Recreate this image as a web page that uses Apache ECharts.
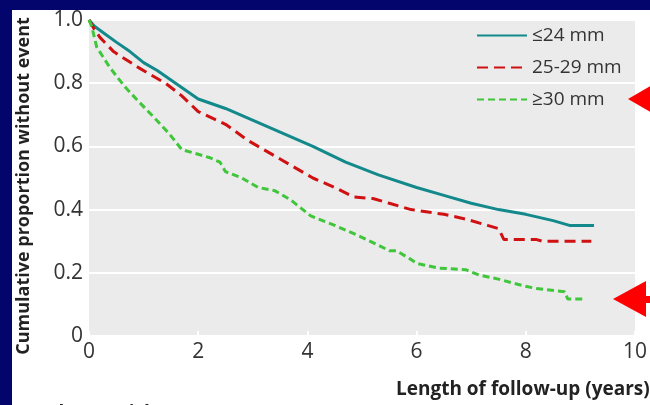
<!DOCTYPE html>
<html>
<head>
<meta charset="utf-8">
<script src="https://cdn.jsdelivr.net/npm/echarts@6/dist/echarts.min.js"></script>
<style>
  html, body { margin: 0; padding: 0; background: #03046c; }
  #chart { width: 650px; height: 405px; }
</style>
</head>
<body>
<div id="chart"></div>
<script>
// follow-up years and proportion without event
const smallYears = [0, 0.1, 0.3, 0.5, 0.75, 1.0, 1.25, 1.5, 2.0, 2.5, 2.9, 3.5, 4.1, 4.7, 5.3, 6.0, 6.5, 7.0, 7.5, 8.0, 8.5, 8.8, 9.25];
const smallVals  = [1.0, 0.98, 0.955, 0.93, 0.90, 0.865, 0.84, 0.81, 0.75, 0.72, 0.69, 0.645, 0.60, 0.55, 0.51, 0.47, 0.445, 0.42, 0.40, 0.385, 0.365, 0.35, 0.35];

const midYears = [0, 0.1, 0.2, 0.45, 0.9, 1.4, 1.7, 2.0, 2.5, 2.9, 3.5, 4.1, 4.5, 4.85, 5.2, 5.5, 5.9, 6.5, 6.9, 7.3, 7.5, 7.6, 8.2, 8.3, 9.2];
const midVals  = [1.0, 0.97, 0.945, 0.90, 0.85, 0.80, 0.76, 0.71, 0.67, 0.62, 0.56, 0.50, 0.47, 0.44, 0.435, 0.42, 0.40, 0.385, 0.37, 0.35, 0.34, 0.305, 0.305, 0.30, 0.30];

const bigYears = [0, 0.05, 0.14, 0.38, 0.65, 0.92, 1.2, 1.47, 1.7, 2.0, 2.2, 2.4, 2.5, 2.8, 3.1, 3.4, 3.7, 4.06, 4.5, 4.9, 5.27, 5.5, 5.63, 5.87, 6.0, 6.4, 6.9, 7.14, 7.5, 7.93, 8.2, 8.71, 8.77, 9.05];
const bigVals  = [1.0, 0.98, 0.915, 0.85, 0.79, 0.74, 0.69, 0.64, 0.59, 0.575, 0.565, 0.55, 0.52, 0.50, 0.47, 0.46, 0.43, 0.38, 0.35, 0.32, 0.29, 0.27, 0.27, 0.245, 0.23, 0.215, 0.21, 0.193, 0.18, 0.16, 0.15, 0.14, 0.117, 0.117];

const seriesNames = ["≤24 mm", "25-29 mm", "≥30 mm"];
const xTicks = [0, 2, 4, 6, 8, 10];

function pairs(xs, ys) {
  return xs.map((x, i) => [x, ys[i]]);
}

const font = "Open Sans";
const chart = echarts.init(document.getElementById("chart"));

chart.setOption({
  animation: false,
  grid: {
    left: 89, top: 20, width: 552, height: 316,
    show: true, backgroundColor: "#ebebeb", borderWidth: 0
  },
  legend: {
    orient: "vertical",
    left: 476, top: 26, padding: 0,
    itemWidth: 50, itemHeight: 14, itemGap: 13,
    itemStyle: { opacity: 0 },
    textStyle: { fontFamily: font, fontSize: 19, color: "#333" },
    data: seriesNames
  },
  xAxis: {
    type: "value", min: 0, max: 10, interval: 2,
    axisLine: { show: false },
    axisTick: { show: true, inside: true, length: 5, lineStyle: { color: "#fff", width: 2 } },
    splitLine: { show: false },
    axisLabel: {
      margin: 6, fontFamily: font, fontSize: 21, color: "#333",
      formatter: v => xTicks.includes(v) ? String(v) : ""
    }
  },
  yAxis: {
    type: "value", min: 0, max: 1, interval: 0.2,
    axisLine: { show: false },
    axisTick: { show: false },
    splitLine: { show: true, lineStyle: { color: "#ffffff", width: 2 } },
    axisLabel: {
      margin: 6, fontFamily: font, fontSize: 21, color: "#333",
      formatter: v => v === 0 ? "0" : v.toFixed(1)
    }
  },
  series: [
    {
      name: seriesNames[0], type: "line", showSymbol: false, symbol: "none",
      data: pairs(smallYears, smallVals),
      lineStyle: { color: "#14898b", width: 3 },
      itemStyle: { color: "#14898b" }
    },
    {
      name: seriesNames[1], type: "line", showSymbol: false, symbol: "none",
      data: pairs(midYears, midVals),
      lineStyle: { color: "#cf1111", width: 3, type: [11, 6] },
      itemStyle: { color: "#cf1111" }
    },
    {
      name: seriesNames[2], type: "line", showSymbol: false, symbol: "none",
      data: pairs(bigYears, bigVals),
      lineStyle: { color: "#3fc63a", width: 3, type: [7, 4] },
      itemStyle: { color: "#3fc63a" }
    }
  ],
  graphic: [
    // white slide image behind the chart
    { type: "rect", z: -10, silent: true, shape: { x: 12, y: 10, width: 638, height: 395 }, style: { fill: "#ffffff" } },
    {
      type: "text", x: 24, y: 186, rotation: Math.PI / 2,
      style: {
        text: "Cumulative proportion without event",
        font: "bold 18px 'Open Sans'", fill: "#222",
        textAlign: "center", textVerticalAlign: "middle"
      }
    },
    {
      type: "text", x: 396, y: 390,
      style: {
        text: "Length of follow-up (years)",
        font: "bold 19px 'Open Sans'", fill: "#222",
        textAlign: "left", textVerticalAlign: "middle"
      }
    },
    {
      type: "text", x: 12, y: 404,
      style: {
        text: "Number at risk",
        font: "bold 19px 'Open Sans'", fill: "#222",
        textAlign: "left", textVerticalAlign: "top"
      }
    },
    // red arrows pointing at the curves
    { type: "polygon", z: 20, shape: { points: [[628, 99], [652, 85], [652, 113]] }, style: { fill: "#ff0000" } },
    { type: "polygon", z: 20, shape: { points: [[613, 299], [646, 281], [646, 317]] }, style: { fill: "#ff0000" } },
    { type: "rect", z: 20, shape: { x: 644, y: 296, width: 8, height: 7 }, style: { fill: "#ff0000" } }
  ]
});
</script>
</body>
</html>
